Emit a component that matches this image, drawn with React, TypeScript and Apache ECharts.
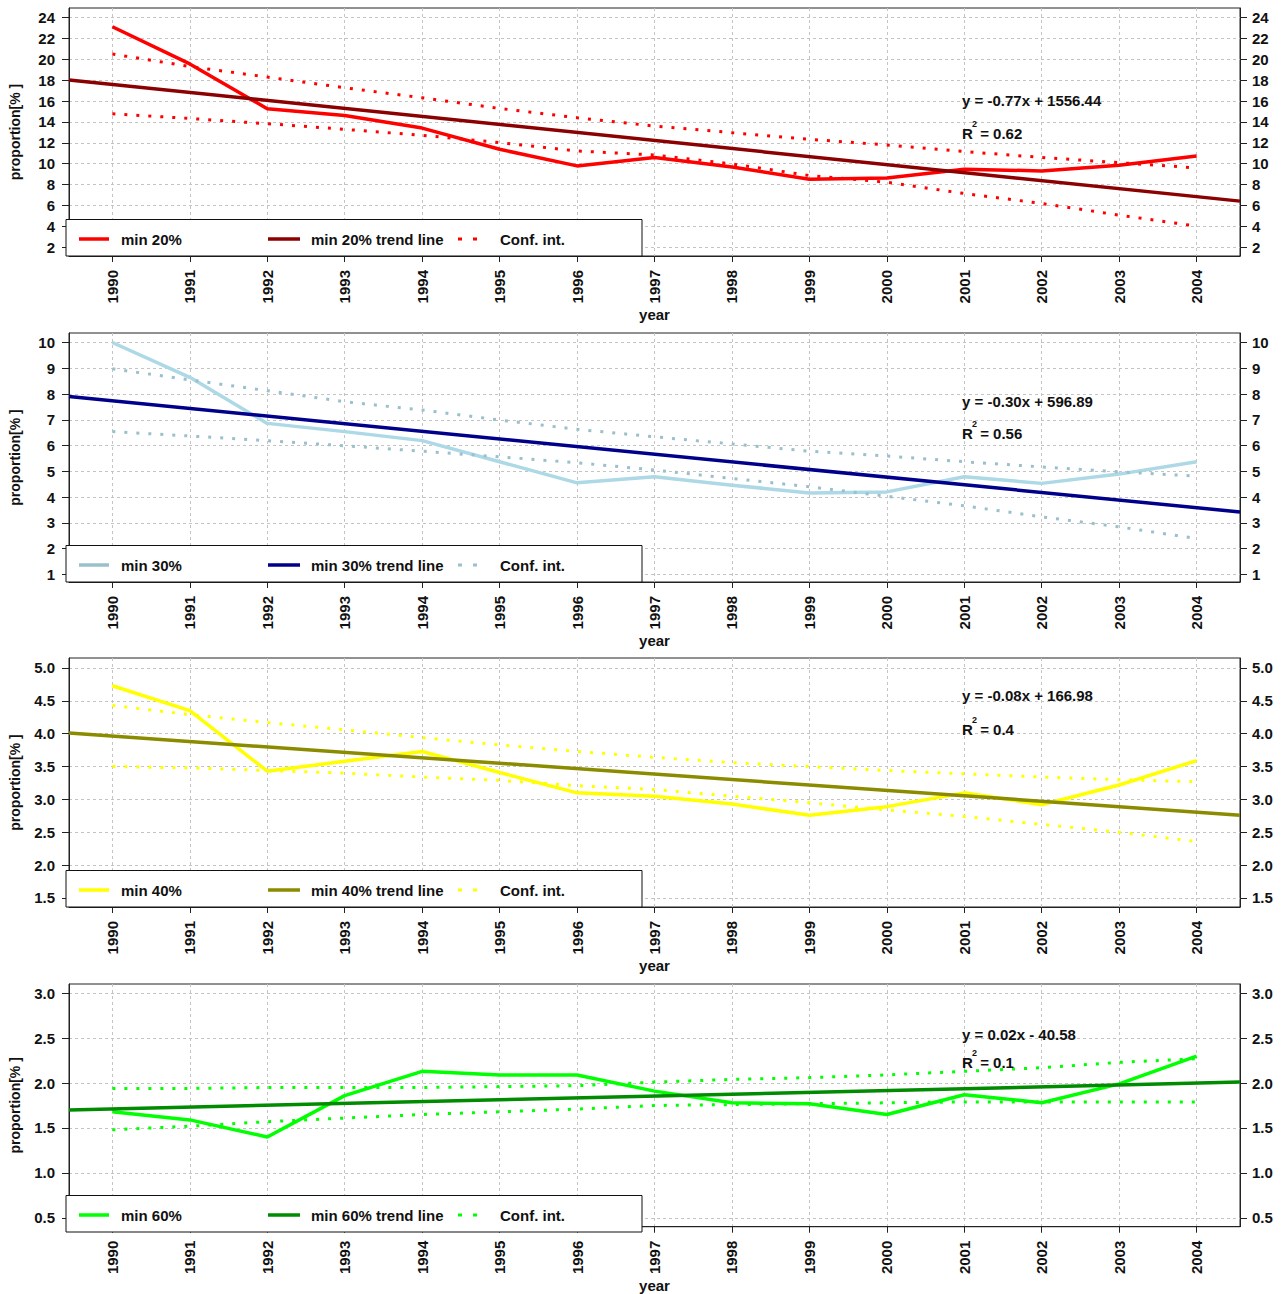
import React, { useEffect, useRef } from "react";
import * as echarts from "echarts";

const years = [1990, 1991, 1992, 1993, 1994, 1995, 1996, 1997, 1998, 1999, 2000, 2001, 2002, 2003, 2004];
const xRange = [1989.44, 2004.56];

// panel 1: min 20%
const min20 = [23.11, 19.55, 15.26, 14.62, 13.41, 11.38, 9.79, 10.6, 9.69, 8.51, 8.64, 9.47, 9.31, 9.85, 10.74];
const min20Upper = [20.5, 19.3, 18.29, 17.27, 16.31, 15.29, 14.4, 13.6, 12.97, 12.34, 11.8, 11.16, 10.6, 10.1, 9.6];
const min20Lower = [14.78, 14.33, 13.83, 13.29, 12.72, 12.02, 11.22, 10.84, 9.98, 8.87, 8.23, 7.15, 6.2, 5.08, 4.03];
const min20Trend = [18.02, 6.42];
const min20Ticks = [2, 4, 6, 8, 10, 12, 14, 16, 18, 20, 22, 24];
const min20Y = [1.17, 24.9];

// panel 2: min 30%
const min30 = [10.0, 8.65, 6.86, 6.54, 6.19, 5.37, 4.55, 4.79, 4.46, 4.16, 4.2, 4.79, 4.53, 4.89, 5.37];
const min30Upper = [8.98, 8.55, 8.13, 7.7, 7.38, 6.99, 6.63, 6.34, 6.06, 5.78, 5.59, 5.37, 5.17, 4.98, 4.81];
const min30Lower = [6.54, 6.37, 6.19, 5.99, 5.78, 5.56, 5.33, 5.05, 4.72, 4.4, 4.03, 3.66, 3.23, 2.84, 2.39];
const min30Trend = [7.9, 3.42];
const min30Ticks = [1, 2, 3, 4, 5, 6, 7, 8, 9, 10];
const min30Y = [0.7, 10.37];

// panel 3: min 40%
const min40 = [4.73, 4.35, 3.43, 3.58, 3.73, 3.41, 3.1, 3.05, 2.93, 2.76, 2.89, 3.1, 2.92, 3.22, 3.59];
const min40Upper = [4.43, 4.29, 4.17, 4.06, 3.94, 3.83, 3.73, 3.64, 3.56, 3.5, 3.44, 3.39, 3.34, 3.3, 3.27];
const min40Lower = [3.5, 3.48, 3.44, 3.4, 3.34, 3.29, 3.21, 3.15, 3.05, 2.95, 2.84, 2.74, 2.62, 2.5, 2.36];
const min40Trend = [4.01, 2.76];
const min40Ticks = [1.5, 2.0, 2.5, 3.0, 3.5, 4.0, 4.5, 5.0];
const min40Y = [1.363, 5.152];

// panel 4: min 60%
const min60 = [1.68, 1.59, 1.4, 1.86, 2.13, 2.09, 2.09, 1.91, 1.78, 1.77, 1.65, 1.87, 1.78, 1.99, 2.3];
const min60Upper = [1.94, 1.94, 1.95, 1.95, 1.95, 1.96, 1.97, 2.01, 2.04, 2.06, 2.09, 2.13, 2.17, 2.23, 2.27];
const min60Lower = [1.48, 1.52, 1.57, 1.61, 1.65, 1.68, 1.71, 1.75, 1.76, 1.77, 1.78, 1.79, 1.79, 1.79, 1.79];
const min60Trend = [1.7, 2.01];
const min60Ticks = [0.5, 1.0, 1.5, 2.0, 2.5, 3.0];
const min60Y = [0.402, 3.101];

const panels = [
  { name: "min 20%", data: min20, up: min20Upper, lo: min20Lower, trend: min20Trend, ticks: min20Ticks, yr: min20Y, dec: 0,
    color: "#FF0000", trendColor: "#8B0000", ciColor: "#FF0000", eq: "y = -0.77x + 1556.44", r2: " = 0.62",
    top: 8, height: 248, eqY: 100, r2Y: 133 },
  { name: "min 30%", data: min30, up: min30Upper, lo: min30Lower, trend: min30Trend, ticks: min30Ticks, yr: min30Y, dec: 0,
    color: "#ADD8E6", trendColor: "#00008B", ciColor: "#9AC0CD", eq: "y = -0.30x + 596.89", r2: " = 0.56",
    top: 333, height: 249, eqY: 401, r2Y: 433 },
  { name: "min 40%", data: min40, up: min40Upper, lo: min40Lower, trend: min40Trend, ticks: min40Ticks, yr: min40Y, dec: 1,
    color: "#FFFF00", trendColor: "#8B8B00", ciColor: "#FFFF00", eq: "y = -0.08x + 166.98", r2: " = 0.4",
    top: 658, height: 249, eqY: 695, r2Y: 729 },
  { name: "min 60%", data: min60, up: min60Upper, lo: min60Lower, trend: min60Trend, ticks: min60Ticks, yr: min60Y, dec: 1,
    color: "#00FF00", trendColor: "#008B00", ciColor: "#00FF00", eq: "y = 0.02x - 40.58", r2: " = 0.1",
    top: 984, height: 248, eqY: 1034, r2Y: 1062 },
];

const NARROW = "'Liberation Sans Narrow', 'Arial Narrow', 'Liberation Sans', Arial, sans-serif";
const SANS = "'Liberation Sans', Arial, sans-serif";
const LEFT = 66;
const RIGHT = 1240;
const W = 1283;
const H = 1294;

export default function App() {
  const ref = useRef<HTMLDivElement>(null);
  useEffect(() => {
    document.body.style.margin = "0";
    if (!ref.current) return;
    const chart = echarts.init(ref.current, null, { renderer: "svg" });

    const grid: any[] = [];
    const xAxis: any[] = [];
    const yAxis: any[] = [];
    const series: any[] = [];
    const graphic: any[] = [];
    const gridLine = { show: true, lineStyle: { color: "#C4C4C4", type: [3, 3], width: 1 } };

    panels.forEach((p, i) => {
      grid.push({
        left: LEFT, right: W - RIGHT, top: p.top, height: p.height,
        show: true, borderColor: "#222", borderWidth: 1, backgroundColor: "transparent",
      });
      xAxis.push({
        type: "value", gridIndex: i, min: xRange[0], max: xRange[1],
        name: "year", nameLocation: "middle", nameGap: 47,
        nameTextStyle: { fontFamily: NARROW, fontWeight: "bold", fontSize: 15, color: "#111" },
        axisLine: { show: true, onZero: false, lineStyle: { color: "#222" } },
        axisTick: { show: true, length: 6, inside: false, customValues: years, lineStyle: { color: "#222" } },
        axisLabel: {
          show: true, rotate: 90, margin: 14, customValues: years,
          fontFamily: NARROW, fontWeight: "bold", fontSize: 15, color: "#111",
          formatter: (v: number) => String(Math.round(v)),
        },
        splitLine: gridLine,
      });
      const yCommon = {
        type: "value", gridIndex: i, min: p.yr[0], max: p.yr[1],
        axisLine: { show: true, lineStyle: { color: "#222" } },
        axisTick: { show: true, length: 7, inside: false, customValues: p.ticks, lineStyle: { color: "#222" } },
        axisLabel: {
          show: true, margin: 14, customValues: p.ticks,
          fontFamily: NARROW, fontWeight: "bold", fontSize: 15, color: "#111",
          formatter: (v: number) => v.toFixed(p.dec),
        },
      };
      yAxis.push({
        ...yCommon, position: "left",
        name: "proportion[% ]", nameLocation: "middle", nameGap: 47, nameRotate: 90,
        nameTextStyle: { fontFamily: SANS, fontWeight: "bold", fontSize: 14, color: "#111" },
        splitLine: gridLine,
      });
      yAxis.push({ ...yCommon, position: "right", axisLabel: { ...yCommon.axisLabel, margin: 12 }, splitLine: { show: false } });

      const xi = i;
      const yi = i * 2;
      series.push({
        type: "line", name: p.name, xAxisIndex: xi, yAxisIndex: yi, showSymbol: false, symbol: "none",
        data: years.map((y, k) => [y, p.data[k]]),
        lineStyle: { color: p.color, width: 3.5 }, z: 3,
      });
      series.push({
        type: "line", name: p.name + " trend line", xAxisIndex: xi, yAxisIndex: yi, symbol: "none",
        data: [[xRange[0], p.trend[0]], [xRange[1], p.trend[1]]],
        lineStyle: { color: p.trendColor, width: 3.5 }, z: 4,
      });
      [p.up, p.lo].forEach((arr, j) => {
        series.push({
          type: "line", name: "Conf. int." + (j === 0 ? " upper" : " lower"), xAxisIndex: xi, yAxisIndex: yi, symbol: "none",
          data: years.map((y, k) => [y, arr[k]]),
          lineStyle: { color: p.ciColor, width: 3, type: [3, 9], cap: "butt" }, z: 5,
        });
      });

      // legend box
      const bottom = p.top + p.height;
      const lgTop = bottom - 36.5;
      const cy = lgTop + 19.5;
      graphic.push({
        type: "rect", shape: { x: LEFT, y: lgTop, width: 642 - LEFT, height: bottom - lgTop },
        style: { fill: "#fff", stroke: "#111", lineWidth: 1 }, z: 100,
      });
      graphic.push({ type: "line", shape: { x1: 79, y1: cy, x2: 109, y2: cy }, style: { stroke: i === 1 ? "#9AC0CD" : p.color, lineWidth: 3.5 }, z: 101 });
      graphic.push({ type: "line", shape: { x1: 268, y1: cy, x2: 300, y2: cy }, style: { stroke: p.trendColor, lineWidth: 3.5 }, z: 101 });
      graphic.push({ type: "line", shape: { x1: 458, y1: cy, x2: 482, y2: cy }, style: { stroke: p.ciColor, lineWidth: 3, lineDash: [4, 11] }, z: 101 });
      const legText = (x: number, t: string) => ({
        type: "text", x, y: cy, z: 101,
        style: { text: t, fontFamily: NARROW, fontWeight: "bold", fontSize: 15, fill: "#111", verticalAlign: "middle", align: "left" },
      });
      graphic.push(legText(121, p.name));
      graphic.push(legText(311, p.name + " trend line"));
      graphic.push(legText(500, "Conf. int."));

      // equation + R^2
      const txt = (x: number, y: number, t: string, fs: number) => ({
        type: "text", x, y, z: 50,
        style: { text: t, fontFamily: NARROW, fontWeight: "bold", fontSize: fs, fill: "#111", verticalAlign: "middle", align: "left" },
      });
      graphic.push(txt(962, p.eqY, p.eq, 15));
      graphic.push(txt(962, p.r2Y, "R", 15));
      graphic.push(txt(972, p.r2Y - 9, "2", 9));
      graphic.push(txt(976, p.r2Y, p.r2, 15));
    });

    chart.setOption({
      animation: false,
      backgroundColor: "#fff",
      grid, xAxis, yAxis, series, graphic,
    });
    return () => chart.dispose();
  }, []);
  return <div ref={ref} style={{ width: W, height: H }} />;
}
